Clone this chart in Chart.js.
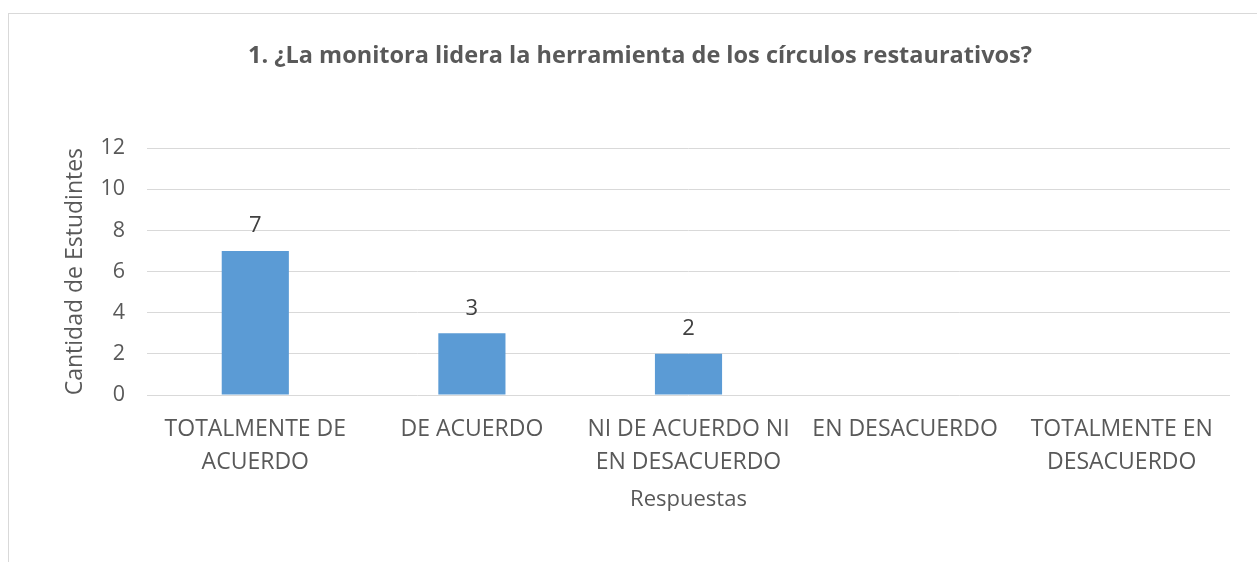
<!DOCTYPE html>
<html>
<head>
<meta charset="utf-8">
<script src="https://cdn.jsdelivr.net/npm/chart.js@4.4.1/dist/chart.umd.min.js"></script>
<style>
  html, body { margin: 0; padding: 0; background: #fff; overflow: hidden; width: 1257px; height: 562px; }
  #frame { position: absolute; left: 8px; top: 13px; width: 1264px; height: 560px; border-left: 1px solid #D9D9D9; border-top: 1px solid #D9D9D9; box-sizing: border-box; }
  #wrap { position: absolute; left: 8px; top: 13px; width: 1264px; height: 549px; }
</style>
</head>
<body>
<div id="frame"></div>
<div id="wrap"><canvas id="c" width="1264" height="549"></canvas></div>
<script>
const categories = [
  ["TOTALMENTE DE", "ACUERDO"],
  ["DE ACUERDO"],
  ["NI DE ACUERDO NI", "EN DESACUERDO"],
  ["EN DESACUERDO"],
  ["TOTALMENTE EN", "DESACUERDO"]
];
const values = [7, 3, 2, null, null];
const yTicks = [0, 2, 4, 6, 8, 10, 12];
const titleText = "1. ¿La monitora lidera la herramienta de los círculos restaurativos?";
const xTitle = "Respuestas";
const yTitle = "Cantidad de Estudintes";

const FONT = "'Open Sans', 'Noto Sans', sans-serif";
const GRAY = "#595959";

const labelPlugin = {
  id: 'barLabels',
  afterLayout(chart) {
    if (chart.titleBlock) {
      chart.titleBlock.left = 0;
      chart.titleBlock.right = chart.width;
    }
  },
  afterDatasetsDraw(chart) {
    const ctx = chart.ctx;
    const meta = chart.getDatasetMeta(0);
    ctx.save();
    ctx.font = "22px " + FONT;
    ctx.fillStyle = "#404040";
    ctx.textAlign = "center";
    ctx.textBaseline = "middle";
    meta.data.forEach((bar, i) => {
      const v = values[i];
      if (v === null || v === undefined) return;
      ctx.fillText(String(v), bar.x, bar.y - 25);
    });
    ctx.restore();
  }
};

new Chart(document.getElementById('c'), {
  type: 'bar',
  data: {
    labels: categories,
    datasets: [{
      data: values,
      backgroundColor: "#5B9BD5",
      borderWidth: 0,
      barPercentage: 0.31,
      categoryPercentage: 1.0
    }]
  },
  options: {
    responsive: false,
    animation: false,
    devicePixelRatio: 1,
    layout: { padding: { left: 0, right: 42, top: 0, bottom: 0 } },
    plugins: {
      legend: { display: false },
      tooltip: { enabled: false },
      title: {
        display: true,
        text: titleText,
        color: GRAY,
        font: { family: FONT, size: 23.5, weight: 'bold', lineHeight: 1.2 },
        padding: { top: 29, bottom: 78 }
      }
    },
    scales: {
      x: {
        grid: { display: false, drawTicks: false },
        border: { display: false },
        ticks: {
          color: GRAY,
          font: { family: FONT, size: 23, lineHeight: 1.43 },
          padding: 18,
          maxRotation: 0,
          autoSkip: false
        },
        title: {
          display: true,
          text: xTitle,
          color: GRAY,
          font: { family: FONT, size: 22, lineHeight: 1.2 },
          padding: { top: 0, bottom: 49 }
        },
        afterFit(scale) { scale.height = 167; }
      },
      y: {
        min: 0,
        max: 12,
        afterBuildTicks(scale) { scale.ticks = yTicks.map(v => ({ value: v })); },
        grid: { color: "#D9D9D9", lineWidth: 1, drawTicks: false },
        border: { display: false },
        ticks: {
          color: GRAY,
          font: { family: FONT, size: 21.5 },
          padding: 22
        },
        title: {
          display: true,
          text: yTitle,
          color: GRAY,
          font: { family: FONT, size: 23, lineHeight: 1.2 },
          padding: { top: 54, bottom: 0 }
        },
        afterFit(scale) { scale.width = 139; }
      }
    }
  },
  plugins: [labelPlugin]
});
</script>
</body>
</html>
